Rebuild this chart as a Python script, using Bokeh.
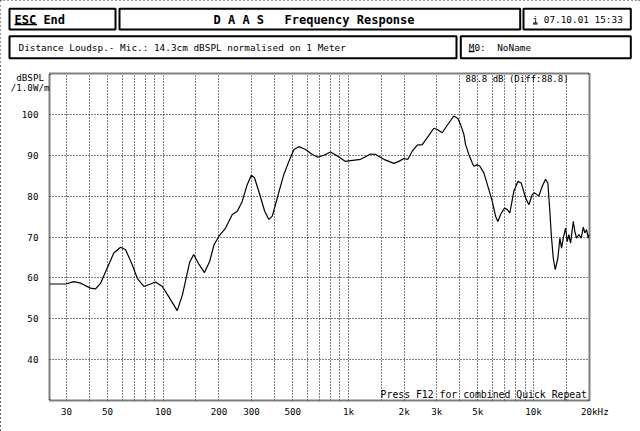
from bokeh.plotting import figure
from bokeh.models import Range1d, FixedTicker, Label
from bokeh.layouts import column
from bokeh.embed import file_html
from bokeh.resources import INLINE
from bokeh.core.properties import value

# ---------------- data ----------------
freq_hz = [24.3, 29.7, 32.9, 35.8, 40.5, 43.1, 45.9, 49.8, 54.1, 58.8,
           62.6, 68.0, 72.4, 78.6, 85.4, 90.9, 98.8, 107, 119, 127,
           139, 146, 155, 167, 178, 188, 200, 217, 236, 251,
           267, 284, 299, 311, 332, 353, 372, 388, 413, 448,
           477, 508, 540, 587, 638, 684, 737, 801, 871, 965,
           1027, 1163, 1317, 1402, 1554, 1760, 1873, 1993, 2095, 2212,
           2354, 2505, 2666, 2894, 3020, 3213, 3389, 3711, 3900, 4035,
           4203, 4293, 4473, 4667, 4760, 4966, 5128, 5390, 5736, 5983,
           6234, 6416, 6635, 6971, 7210, 7447, 7827, 8226, 8581, 9054,
           9432, 9840, 10125, 10681, 11143, 11610, 11946, 12246, 12462, 12776,
           13098, 13527, 13868, 14164, 14467, 14887, 15205, 15510, 15842, 16384,
           16711, 17070, 17565, 18098, 18554, 18925, 19331, 19745, 20000]
spl_db = [58.5, 58.5, 59.1, 58.7, 57.5, 57.3, 58.7, 62.4, 66.1, 67.5,
          66.9, 63.2, 59.9, 57.9, 58.5, 59.0, 57.9, 55.4, 52.0, 55.9,
          63.9, 65.7, 63.5, 61.3, 64.0, 68.1, 70.2, 72.2, 75.5, 76.3,
          78.7, 82.8, 85.1, 84.5, 80.4, 76.3, 74.3, 75.1, 79.6, 85.3,
          88.5, 91.4, 92.1, 91.4, 90.2, 89.5, 90.0, 90.8, 89.8, 88.5,
          88.7, 89.0, 90.3, 90.2, 89.0, 88.0, 88.5, 89.2, 89.0, 91.0,
          92.5, 92.6, 94.3, 96.6, 96.3, 95.5, 97.1, 99.6, 99.0, 97.5,
          95.1, 92.6, 90.2, 88.1, 87.3, 87.7, 87.3, 85.7, 81.6, 78.7,
          75.1, 73.8, 75.5, 77.1, 76.7, 75.9, 81.2, 83.6, 83.2, 79.6,
          77.9, 80.4, 80.8, 80.0, 82.4, 84.1, 83.2, 76.3, 70.6, 64.8,
          62.0, 64.8, 69.7, 67.3, 69.7, 72.2, 68.9, 70.6, 68.5, 73.8,
          71.4, 69.7, 70.6, 69.7, 72.4, 71.0, 71.8, 69.7, 70.6]

x_major_ticks = [30, 50, 100, 200, 300, 500, 1000, 2000, 3000, 5000, 10000, 20000]
x_major_labels = ["30", "50", "100", "200", "300", "500", "1k", "2k", "3k", "5k", "10k",
                  "\u00a0\u00a020kHz"]
x_grid_ticks = [30, 40, 50, 60, 70, 80, 90, 100, 150, 200, 300, 400, 500, 600, 700, 800, 900,
                1000, 1500, 2000, 3000, 4000, 5000, 6000, 7000, 8000, 9000, 10000, 15000]
y_ticks = [40, 50, 60, 70, 80, 90, 100]
y_unit_ticks = [106.6, 109.0]
y_unit_labels = ["/1.0W/m", "dBSPL\u00a0"]

title_words = ["D A A S", "Frequency Response"]
esc_text = "ESC End"
date_text = "i 07.10.01 15:33"
info_text = "Distance Loudsp.- Mic.: 14.3cm dBSPL normalised on 1 Meter"
memo_label = "M0:"
memo_name = "NoName"
level_text = "88.8 dB (Diff:88.8)"
press_text = "Press F12 for combined Quick Repeat"

MONO = "DejaVu Sans Mono"
W, H = 640, 431
sx, sy = W / 640.0, H / 431.0
H1 = round(64 * sy)

# ---------------- header ----------------
hdr = figure(width=W, height=H1, x_range=Range1d(0, 640), y_range=Range1d(H1 / sy, 0),
             toolbar_location=None, output_backend="svg", min_border=0,
             x_axis_location=None, y_axis_location=None)
hdr.frame_align = False
hdr.grid.visible = False
hdr.outline_line_color = None
hdr.background_fill_color = "white"
hdr.border_fill_color = "white"

hdr.quad(left=[9, 119, 523, 9, 460.3], right=[115, 519.7, 630.3, 456, 630.3],
         top=[8.3, 8.3, 8.3, 35.7, 35.7], bottom=[29, 29, 29, 57.7, 57.7],
         fill_color=None, line_color="black", line_width=2)

hdr.text(x=[14, 213, 284], y=[19.5, 19.5, 19.5], text=[esc_text] + title_words,
         text_font=value(MONO), text_font_style="bold", text_font_size="12px",
         text_baseline="middle", text_align="left", text_color="black")
hdr.text(x=[532, 18, 468.3, 496.7], y=[18.8, 46.6, 46.6, 46.6],
         text=[date_text, info_text, memo_label, memo_name],
         text_font=value(MONO), text_font_size="9.4px",
         text_baseline="middle", text_align="left", text_color="black")
hdr.segment(x0=[14, 532.5, 468.3], x1=[36.5, 537, 474], y0=[24, 23.3, 51], y1=[24, 23.3, 51],
            line_color="black", line_width=1.3)

# ---------------- main plot ----------------
mb_top = round(73 * sy) - H1
mb_left = round(49 * sx)
mb_right = W - round(589 * sx)
mb_bottom = H - H1 - mb_top - (round(400.5 * sy) - round(73 * sy))
p = figure(width=W, height=H - H1, x_axis_type="log",
           x_range=Range1d(24.3, 20050), y_range=Range1d(30, 110),
           toolbar_location=None, output_backend="svg",
           min_border_left=mb_left, min_border_right=mb_right,
           min_border_top=mb_top, min_border_bottom=mb_bottom)
p.frame_align = False
p.background_fill_color = "white"
p.border_fill_color = "white"
p.outline_line_color = "black"
p.outline_line_width = 2
p.outline_line_dash = "1 1"

p.line(freq_hz, spl_db, line_color="black", line_width=1.2)

p.xaxis.ticker = FixedTicker(ticks=x_major_ticks)
p.xaxis.major_label_overrides = {t: l for t, l in zip(x_major_ticks, x_major_labels)}
p.yaxis.ticker = FixedTicker(ticks=y_ticks + y_unit_ticks)
y_over = {t: str(t) + "\u00a0\u00a0" for t in y_ticks}
y_over.update({t: l for t, l in zip(y_unit_ticks, y_unit_labels)})
p.yaxis.major_label_overrides = y_over
p.xgrid.ticker = FixedTicker(ticks=x_grid_ticks)
p.ygrid.ticker = FixedTicker(ticks=y_ticks)
for g in (p.xgrid, p.ygrid):
    g.grid_line_color = "black"
    g.grid_line_dash = "1 2"
    g.grid_line_width = 1
    g.grid_line_alpha = 1.0
for ax in (p.xaxis, p.yaxis):
    ax.axis_line_color = None
    ax.major_tick_line_color = None
    ax.minor_tick_line_color = None
    ax.major_tick_out = 0
    ax.major_tick_in = 0
    ax.major_label_text_font = MONO
    ax.major_label_text_font_size = "9.2px"
    ax.major_label_text_color = "black"
p.xaxis.major_label_standoff = 5
p.yaxis.major_label_standoff = 0

p.add_layout(Label(x=4295, y=109.8, text=level_text, text_font=MONO, text_font_size="9px",
                   text_align="left", text_baseline="top", text_color="black"))
p.add_layout(Label(x=1492, y=30.2, text=press_text, text_font=MONO, text_font_size="9.8px",
                   text_align="left", text_baseline="bottom", text_color="black"))

layout = column(hdr, p, spacing=0,
                styles={"outline": "2px dotted #333", "outline-offset": "-2px"})

open("out.html", "w").write(file_html(layout, INLINE))
